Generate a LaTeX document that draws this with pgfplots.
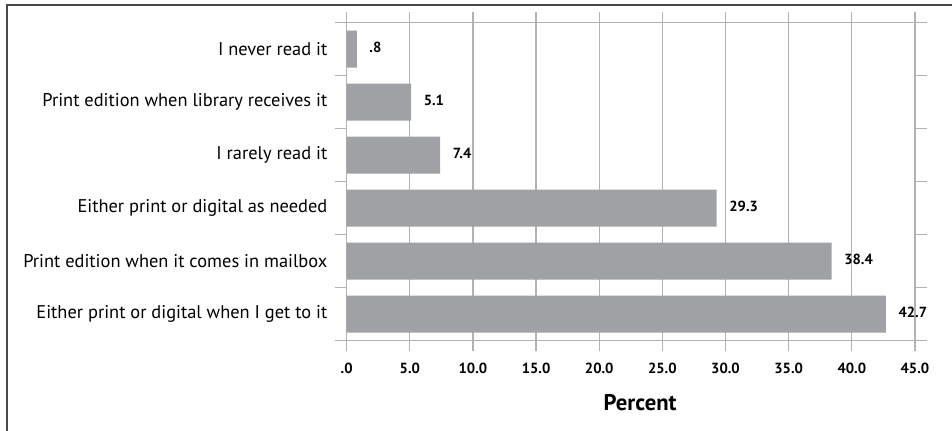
\documentclass[border=0pt]{standalone}
\usepackage{pgfplots}
\pgfplotsset{compat=1.18}
\usepackage{fontspec}
\setmainfont{PT Sans}
\definecolor{barc}{RGB}{160,161,165}
\definecolor{gridc}{RGB}{178,178,180}
\definecolor{framec}{RGB}{72,72,72}
\begin{document}
\begin{tikzpicture}
\draw[framec, line width=1.6pt] (5pt,-20pt) rectangle (740pt,318.5pt);
\begin{axis}[
  at={(260pt,67pt)}, anchor=south west,
  scale only axis, width=426.2pt, height=238.5pt,
  xbar, bar width=0.7,
  xmin=0, xmax=45, ymin=-0.5, ymax=5.5,
  xtick={0,5,...,45},
  xticklabels={.0,5.0,10.0,15.0,20.0,25.0,30.0,35.0,40.0,45.0},
  ytick={0,...,5},
  yticklabels={Either print or digital when I get to it,Print edition when it comes in mailbox,Either print or digital as needed,I rarely read it,Print edition when library receives it,I never read it},
  minor ytick={-0.5,0.5,...,5.5},
  tick align=outside,
  major tick length=8pt, minor tick length=9pt,
  major y tick style={draw=none},
  minor y tick style={draw=gridc, line width=1pt},
  major x tick style={draw=gridc, line width=1pt},
  xmajorgrids,
  major grid style={draw=gridc, line width=1pt},
  axis line style={draw=gridc, line width=1pt},
  xticklabel style={font=\fontsize{11}{13}\selectfont\bfseries, yshift=-5pt},
  yticklabel style={font=\fontsize{13.8}{16}\selectfont, xshift=-3pt},
  xlabel={\bfseries Percent},
  xlabel style={font=\fontsize{17}{19}\selectfont, yshift=-9pt, xshift=7pt},
  nodes near coords,
  point meta=explicit symbolic,
  every node near coord/.append style={font=\fontsize{11}{13}\selectfont\bfseries, anchor=west, xshift=6pt, yshift=1pt, text=black},
  clip=false,
]
\addplot[fill=barc, draw=none] coordinates {
  (42.7,0) [42.7]
  (38.4,1) [38.4]
  (29.3,2) [29.3]
  (7.4,3) [7.4]
  (5.1,4) [5.1]
  (0.8,5) [.8]
};
\end{axis}
\pgfresetboundingbox
\path[use as bounding box] (0,0) rectangle (714pt,322.5pt);
\end{tikzpicture}
\end{document}
